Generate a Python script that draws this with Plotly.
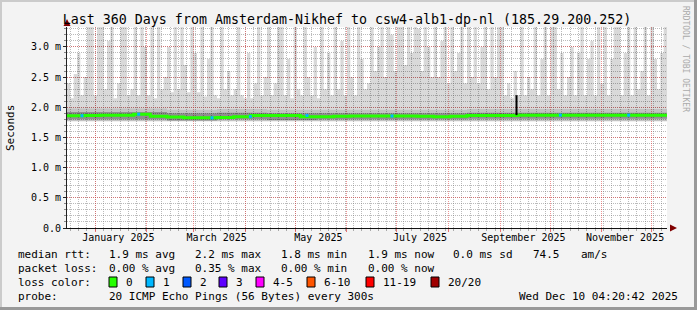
import plotly.graph_objects as go
import pandas as pd

# ---------------- data (values in milliseconds) ----------------
title_text = "Last 360 Days from Amsterdam-Nikhef to csw4-alb1-dp-nl (185.29.200.252)"
start = pd.Timestamp("2024-12-15 04:20:42")
end = pd.Timestamp("2025-12-10 04:20:42")

# lightest smoke spikes: top of ping spread, 2-day bins (180 bins)
smoke_max = [
    2.4, 2.15, 2.55, 2.9, 2.2, 2.5, 3.4, 3.4, 2.2, 3.4,
    3.4, 2.3, 3.1, 3.4, 2.15, 2.4, 3.4, 3.4, 2.2, 2.3,
    3.4, 2.2, 3.4, 3.0, 2.2, 3.4, 2.15, 3.4, 2.3, 2.5,
    3.0, 2.2, 3.4, 2.3, 3.4, 2.7, 2.25, 3.4, 2.9, 2.2,
    3.4, 2.15, 2.8, 3.4, 2.2, 2.15, 3.4, 2.3, 2.6, 2.2,
    2.3, 3.4, 2.2, 2.15, 2.9, 2.15, 2.4, 3.4, 2.2, 2.5,
    3.4, 2.2, 2.4, 3.4, 3.4, 2.2, 2.8, 2.15, 3.4, 2.3,
    2.2, 3.4, 2.5, 2.2, 3.0, 2.15, 3.4, 2.3, 2.9, 2.2,
    3.4, 2.3, 3.1, 2.2, 3.4, 2.5, 2.2, 3.4, 2.8, 2.3,
    2.4, 3.4, 2.6, 3.0, 3.4, 2.5, 3.4, 3.2, 2.6, 3.4,
    3.4, 2.7, 3.4, 2.9, 3.4, 3.3, 2.6, 3.4, 3.0, 2.5,
    3.4, 2.5, 3.1, 3.4, 2.4, 3.4, 2.6, 2.9, 3.4, 2.4,
    3.4, 2.5, 3.4, 2.4, 3.0, 3.4, 2.3, 3.4, 2.5, 3.4,
    3.4, 2.2, 2.4, 2.15, 2.6, 2.2, 3.4, 2.2, 2.5, 2.3,
    3.4, 2.2, 2.8, 3.4, 2.2, 3.4, 3.4, 2.3, 2.9, 2.2,
    2.5, 3.0, 2.2, 2.9, 3.4, 2.2, 2.8, 3.1, 2.2, 3.4,
    2.4, 3.4, 2.2, 2.8, 3.4, 3.4, 2.2, 2.9, 3.4, 2.2,
    3.4, 2.3, 2.6, 3.4, 2.2, 3.4, 2.8, 2.3, 2.9, 3.4,
]
smoke_floor = 1.77

# continuous light smoke top: 10-day bins (36 bins)
smoke_base = [
    2.08, 2.10, 2.08, 2.12, 2.10, 2.15, 2.25, 2.25, 2.18, 2.10,
    2.06, 2.05, 2.08, 2.06, 2.04, 2.05, 2.08, 2.06, 2.08, 2.18,
    2.30, 2.28, 2.22, 2.12, 2.10, 2.05, 2.06, 2.05, 2.04, 2.05,
    2.06, 2.05, 2.04, 2.06, 2.04, 2.05,
]

# median rtt: 10-day bins (36 bins)
median_rtt = [
    1.860, 1.865, 1.870, 1.870, 1.885, 1.850, 1.840, 1.825, 1.825, 1.830,
    1.845, 1.865, 1.865, 1.865, 1.845, 1.845, 1.850, 1.855, 1.855, 1.855,
    1.855, 1.850, 1.845, 1.850, 1.865, 1.865, 1.865, 1.870, 1.870, 1.870,
    1.870, 1.870, 1.870, 1.870, 1.870, 1.870,
]

# medium and dark bands around the median: 30-day bins (12 bins)
band_mid_hi = [1.98, 1.98, 1.96, 1.97, 1.96, 1.96, 1.96, 1.96, 1.97, 1.97, 1.97, 1.97]
band_hi = [1.92, 1.92, 1.90, 1.91, 1.90, 1.90, 1.90, 1.90, 1.91, 1.91, 1.91, 1.91]
band_lo = [1.80, 1.80, 1.78, 1.80, 1.79, 1.80, 1.80, 1.80, 1.81, 1.81, 1.81, 1.81]

# samples with 1/20 packet loss
loss1_day = [9, 43, 87, 110, 144, 195, 296, 337]
loss1_rtt = [1.86, 1.885, 1.825, 1.845, 1.865, 1.855, 1.87, 1.87]

# single spike in September
spike_day = 269.7
spike_rtt = [1.87, 2.20]

y_tick_vals = [0.0, 0.5, 1.0, 1.5, 2.0, 2.5, 3.0]
y_tick_text = ["0.0", "0.5 m", "1.0 m", "1.5 m", "2.0 m", "2.5 m", "3.0 m"]
x_label_dates = ["2025-01-15", "2025-03-15", "2025-05-15", "2025-07-15", "2025-09-15", "2025-11-15"]
x_label_text = ["January 2025", "March 2025", "May 2025", "July 2025", "September 2025", "November 2025"]
month_starts = ["2025-01-01", "2025-02-01", "2025-03-01", "2025-04-01", "2025-05-01", "2025-06-01",
                "2025-07-01", "2025-08-01", "2025-09-01", "2025-10-01", "2025-11-01", "2025-12-01"]

loss_labels = ["0", "1", "2", "3", "4-5", "6-10", "11-19", "20/20"]
loss_colors = ["#26ff00", "#00b8ff", "#0059ff", "#5e00ff", "#ff00ff", "#ff5500", "#ff0000", "#a00000"]

# ---------------- layout geometry ----------------
W, H = 697, 310
PL, PR, PT, PB = 67, 667, 27, 228
FONT = "DejaVu Sans Mono"
DAY_MS = 86400000


def px(x, y):
    return (x - PL) / (PR - PL), (PB - y) / (PB - PT)


def steps(values, days_per):
    xs = [start + pd.Timedelta(days=days_per * i) for i in range(len(values))] + [end]
    ys = list(values) + [values[-1]]
    return xs, ys


def band(lo, hi, days_per, color):
    xs, ylo = steps(lo, days_per)
    _, yhi = steps(hi, days_per)
    fig.add_trace(go.Scatter(x=xs, y=ylo, mode="lines", line=dict(width=0, shape="hv"),
                             hoverinfo="skip", showlegend=False))
    fig.add_trace(go.Scatter(x=xs, y=yhi, mode="lines", line=dict(width=0, shape="hv"), fill="tonexty",
                             fillcolor=color, hoverinfo="skip", showlegend=False))


fig = go.Figure()

LIGHT = "rgba(0,0,0,0.15)"
# continuous light smoke
band([smoke_floor] * len(smoke_base), smoke_base, 10, LIGHT)
# spikes above it (2-day steps)
spike_lo = [smoke_base[i // 5] for i in range(len(smoke_max))]
spike_hi = [max(v, b) for v, b in zip(smoke_max, spike_lo)]
band(spike_lo, spike_hi, 2, LIGHT)
# medium band
band([smoke_floor] * len(band_mid_hi), band_mid_hi, 30, "rgba(0,0,0,0.10)")
# dark band
band(band_lo, band_hi, 30, "rgba(0,0,0,0.26)")
# median line
xs, ys = steps(median_rtt, 10)
fig.add_trace(go.Scatter(x=xs, y=ys, mode="lines", line=dict(width=3, color=loss_colors[0], shape="hv"),
                         hoverinfo="skip", showlegend=False))
# loss markers
fig.add_trace(go.Scatter(x=[start + pd.Timedelta(days=d) for d in loss1_day], y=loss1_rtt, mode="markers",
                         marker=dict(symbol="square", size=3, color=loss_colors[1], line=dict(width=0)),
                         hoverinfo="skip", showlegend=False))
# spike
sx = start + pd.Timedelta(days=spike_day)
fig.add_trace(go.Scatter(x=[sx, sx], y=spike_rtt, mode="lines", line=dict(width=2, color="black"),
                         hoverinfo="skip", showlegend=False))
# helper trace for grid axis
fig.add_trace(go.Scatter(x=[start, end], y=[None, None], xaxis="x2", mode="lines",
                         hoverinfo="skip", showlegend=False))

fig.update_layout(
    width=W, height=H,
    margin=dict(l=PL, r=W - PR, t=PT, b=H - PB, pad=0),
    paper_bgcolor="#f3f3f3", plot_bgcolor="#ffffff",
    font=dict(family=FONT, size=10, color="#000000"),
    title=dict(text=title_text, x=347 / W, xanchor="center", xref="container", y=1 - 19 / H,
               yanchor="middle", yref="container", font=dict(family=FONT, size=13.3, color="#000")),
    xaxis=dict(type="date", range=[start, end], showgrid=False, zeroline=False,
               tickmode="array", tickvals=x_label_dates, ticktext=x_label_text, ticks="",
               tickfont=dict(family=FONT, size=10), showline=True, linecolor="#111", linewidth=1),
    xaxis2=dict(type="date", range=[start, end], overlaying="x", side="bottom", showticklabels=False,
                tickmode="array", tickvals=month_starts, showgrid=True,
                gridcolor="rgba(225,60,60,0.55)", griddash="1px,1px", gridwidth=1,
                ticks="outside", ticklen=3, tickcolor="rgba(225,60,60,0.7)", showline=False, zeroline=False,
                minor=dict(tick0="2025-01-06", dtick=5 * DAY_MS, showgrid=True,
                           gridcolor="rgba(120,120,120,0.5)", griddash="1px,1px", gridwidth=1,
                           ticks="outside", ticklen=2, tickcolor="#aaa")),
    yaxis=dict(range=[0, 3.33], tickmode="array", tickvals=y_tick_vals, ticktext=y_tick_text,
               showgrid=True, gridcolor="rgba(225,60,60,0.55)", griddash="1px,1px", gridwidth=1,
               zeroline=False, showline=True, linecolor="#222", linewidth=1,
               ticks="outside", ticklen=3, tickcolor="#222", tickfont=dict(family=FONT, size=10),
               minor=dict(dtick=0.1, showgrid=True, gridcolor="rgba(120,120,120,0.5)",
                          griddash="1px,1px", gridwidth=1, ticks="outside", ticklen=2, tickcolor="#888")),
)

ann = []


def text(t, x, y, size=11, anchor="left", color="#000", angle=0):
    ax, ay = px(x, y)
    ann.append(dict(text=t, x=ax, y=ay, xref="paper", yref="paper", showarrow=False,
                    xanchor=anchor, yanchor="middle", textangle=angle,
                    font=dict(family=FONT, size=size, color=color)))


shapes = []


def tri(points, color):
    path = "M " + " L ".join("%f,%f" % px(x, y) for x, y in points) + " Z"
    shapes.append(dict(type="path", xref="paper", yref="paper", path=path,
                       fillcolor=color, line=dict(width=0)))


# axis titles and watermark
text("Seconds", 10, 128, size=11, anchor="center", angle=-90)
text("RRDTOOL / TOBI OETIKER", 686, 59, size=8, anchor="center", color="#aaaaaa", angle=90)
# axis arrows
tri([(67, 19), (63.5, 26), (70.5, 26)], "#800000")
tri([(677, 228), (670, 224.5), (670, 231.5)], "#800000")

rows = [254, 268, 282, 296]
text("median rtt:", 16, rows[0])
for t, x in [("1.9 ms avg", 107), ("2.2 ms max", 193), ("1.8 ms min", 279), ("1.9 ms now", 366),
             ("0.0 ms sd", 451), ("74.5", 531), ("am/s", 579)]:
    text(t, x, rows[0])
text("packet loss:", 16, rows[1])
for t, x in [("0.00 % avg", 107), ("0.35 % max", 193), ("0.00 % min", 279), ("0.00 % now", 366)]:
    text(t, x, rows[1])
text("loss color:", 16, rows[2])
box_x = [109, 146, 183, 219, 256, 307, 366, 431]
for lbl, col, bx in zip(loss_labels, loss_colors, box_x):
    x0, y0 = px(bx, rows[2] + 5)
    x1, y1 = px(bx + 8, rows[2] - 5)
    shapes.append(dict(type="rect", xref="paper", yref="paper", x0=x0, x1=x1, y0=y0, y1=y1,
                       fillcolor=col, line=dict(color="#000", width=1)))
    text(lbl, bx + 15, rows[2])
text("probe:", 16, rows[3])
text("20 ICMP Echo Pings (56 Bytes) every 300s", 107, rows[3])
text("Wed Dec 10 04:20:42 2025", 680, rows[3], anchor="right")

# image frame
for (x0, y0, x1, y1, c) in [(0, 0, W, 2, "#cbcbcb"), (0, 0, 2, H, "#cbcbcb"),
                            (0, H - 3, W, H, "#999999"), (W - 3, 0, W, H, "#999999")]:
    a0, b0 = px(x0, y1)
    a1, b1 = px(x1, y0)
    shapes.append(dict(type="rect", xref="paper", yref="paper", x0=a0, x1=a1, y0=b0, y1=b1,
                       fillcolor=c, line=dict(width=0)))

fig.update_layout(annotations=ann, shapes=shapes)
fig.write_html("out.html")
